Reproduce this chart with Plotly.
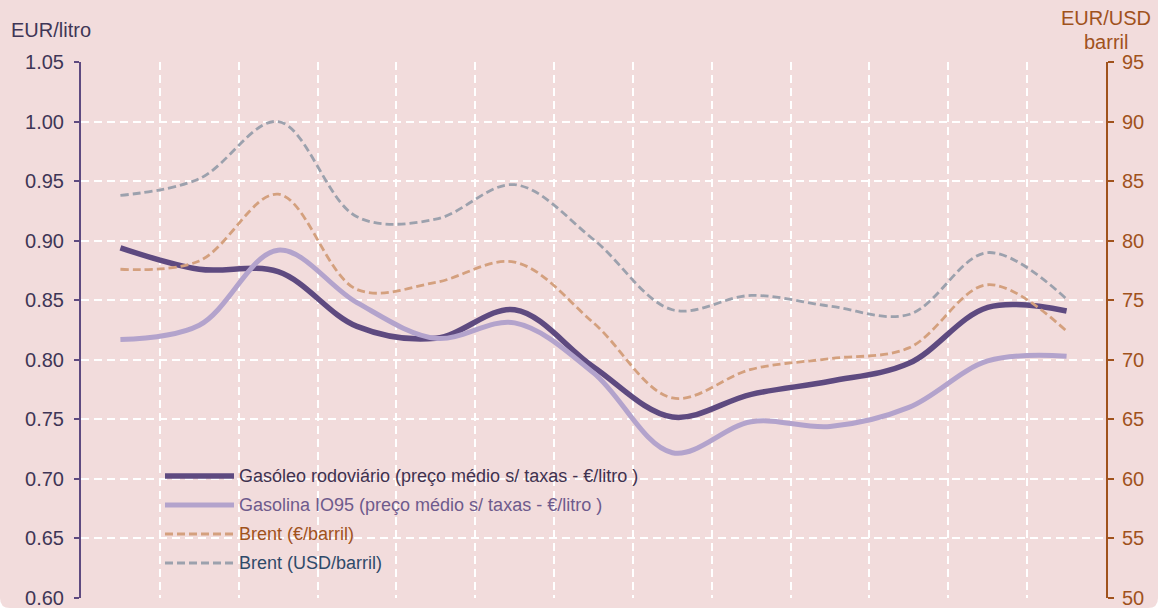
import plotly.graph_objects as go

# ---------------- data ----------------
periods = list(range(13))  # 13 consecutive periods (labels not shown in the chart)
gasoleo = [0.894, 0.876, 0.874, 0.828, 0.818, 0.842, 0.794, 0.752, 0.771, 0.782, 0.797, 0.844, 0.841]
gasolina = [0.817, 0.829, 0.892, 0.848, 0.818, 0.831, 0.789, 0.722, 0.748, 0.744, 0.760, 0.799, 0.803]
brent_eur = [77.6, 78.3, 83.9, 75.9, 76.5, 78.2, 73.1, 66.8, 69.2, 70.1, 71.0, 76.3, 72.4]
brent_usd = [83.8, 85.2, 90.0, 82.0, 81.8, 84.7, 80.1, 74.2, 75.4, 74.5, 73.8, 79.0, 75.1]

names = ["Gasóleo rodoviário (preço médio s/ taxas - €/litro )",
         "Gasolina IO95 (preço médio s/ taxas - €/litro )",
         "Brent (€/barril)",
         "Brent (USD/barril)"]

# ---------------- style ----------------
FONT = "Arial, Liberation Sans, sans-serif"
BG = "#f2dcdc"
C_DIESEL = "#5e4a80"
C_GASOL = "#b3a3cc"
C_BEUR = "#d4a07e"
C_BUSD = "#9ca1ad"
C_LEFT = "#3f3656"
C_RIGHT = "#a0521c"
TXT_COLORS = ["#3f3250", "#6e5a8c", "#a0521c", "#2f4a6a"]
GRID_DASH = "8px,5px"
DASH = "8px,4px"

W, H = 1158, 612
ML, MR, MT, MB = 81, 52, 62, 14
PW, PH = W - ML - MR, H - MT - MB


def X(px):
    return (px - ML) / PW


def Y(py):
    return (H - MB - py) / PH


fig = go.Figure()
fig.add_trace(go.Scatter(x=periods, y=gasoleo, mode="lines", name=names[0],
                         line=dict(color=C_DIESEL, width=5.5, shape="spline", smoothing=1.0)))
fig.add_trace(go.Scatter(x=periods, y=gasolina, mode="lines", name=names[1],
                         line=dict(color=C_GASOL, width=5, shape="spline", smoothing=1.0)))
fig.add_trace(go.Scatter(x=periods, y=brent_eur, mode="lines", name=names[2], yaxis="y2",
                         line=dict(color=C_BEUR, width=2.8, dash=DASH, shape="spline", smoothing=1.0)))
fig.add_trace(go.Scatter(x=periods, y=brent_usd, mode="lines", name=names[3], yaxis="y2",
                         line=dict(color=C_BUSD, width=2.8, dash=DASH, shape="spline", smoothing=1.0)))

# background with rounded bottom corners
r = 10
bg_path = (f"M {X(0)},{Y(0)} L {X(W)},{Y(0)} L {X(W)},{Y(608 - r)} "
           f"Q {X(W)},{Y(608)} {X(W - r)},{Y(608)} L {X(r)},{Y(608)} "
           f"Q {X(0)},{Y(608)} {X(0)},{Y(608 - r)} Z")
shapes = [dict(type="path", xref="paper", yref="paper", path=bg_path,
               fillcolor=BG, line=dict(width=0), layer="below")]

# manual legend
leg_rows = [476, 505, 534, 563]
leg_styles = [dict(color=C_DIESEL, width=5.5), dict(color=C_GASOL, width=5),
              dict(color=C_BEUR, width=2.8, dash=DASH), dict(color=C_BUSD, width=2.8, dash=DASH)]
annotations = []
for i, yy in enumerate(leg_rows):
    shapes.append(dict(type="line", xref="paper", yref="paper", x0=X(165), x1=X(234), y0=Y(yy), y1=Y(yy),
                       line=leg_styles[i], layer="above"))
    annotations.append(dict(xref="paper", yref="paper", x=X(237), y=Y(yy), text=names[i], showarrow=False,
                            xanchor="left", yanchor="middle", font=dict(family=FONT, size=18, color=TXT_COLORS[i])))

annotations += [
    dict(xref="paper", yref="paper", x=X(9), y=Y(30), text="EUR/litro", showarrow=False,
         xanchor="left", yanchor="middle", font=dict(family=FONT, size=20, color=C_LEFT)),
    dict(xref="paper", yref="paper", x=X(1106), y=Y(18), text="EUR/USD", showarrow=False,
         xanchor="center", yanchor="middle", font=dict(family=FONT, size=20, color=C_RIGHT)),
    dict(xref="paper", yref="paper", x=X(1106), y=Y(42), text="barril", showarrow=False,
         xanchor="center", yanchor="middle", font=dict(family=FONT, size=20, color=C_RIGHT)),
]

fig.update_layout(
    width=W, height=H,
    margin=dict(l=ML, r=MR, t=MT, b=MB, pad=0, autoexpand=False),
    paper_bgcolor="white", plot_bgcolor="rgba(0,0,0,0)",
    showlegend=False,
    font=dict(family=FONT, size=20, color=C_LEFT),
    shapes=shapes, annotations=annotations,
    xaxis=dict(range=[-0.5, 12.5], tickvals=[i + 0.5 for i in range(12)], showticklabels=False,
               ticks="", showgrid=True, gridcolor="white", gridwidth=2, griddash=GRID_DASH,
               zeroline=False, showline=False, automargin=False),
    yaxis=dict(range=[0.6, 1.05], tick0=0.6, dtick=0.05, tickformat=".2f", showgrid=True,
               gridcolor="white", gridwidth=2, griddash=GRID_DASH, zeroline=False,
               showline=True, linecolor=C_DIESEL, linewidth=2, ticks="outside", ticklen=5,
               tickwidth=2, tickcolor=C_DIESEL, tickfont=dict(family=FONT, size=20, color=C_LEFT),
               ticklabelstandoff=6, automargin=False),
    yaxis2=dict(range=[50, 95], tick0=50, dtick=5, overlaying="y", side="right", showgrid=False,
                zeroline=False, showline=True, linecolor=C_RIGHT, linewidth=2, ticks="outside",
                ticklen=6, tickwidth=2, tickcolor=C_RIGHT,
                tickfont=dict(family=FONT, size=20, color=C_RIGHT), ticklabelstandoff=4,
                automargin=False),
)

fig.write_html("out.html", config={"displayModeBar": False},
               post_script="document.body.style.margin='0px';document.body.style.overflow='hidden';")
